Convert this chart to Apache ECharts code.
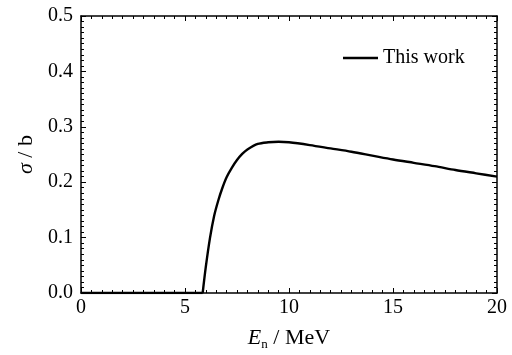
<!DOCTYPE html>
<html>
<head>
<meta charset="utf-8">
<script src="https://cdn.jsdelivr.net/npm/echarts@6/dist/echarts.min.js"></script>
<style>
  html, body { margin: 0; padding: 0; background: #fff; }
  #chart { width: 512px; height: 355px; }
</style>
</head>
<body>
<div id="chart"></div>
<script>
// Neutron energy (MeV) and cross section (b); zero below the reaction threshold
const belowEnergy = [0, 5.85];
const belowSigma  = [0, 0];
const energy = [5.85, 6.0, 6.2, 6.4, 6.6, 6.8, 7.0, 7.25, 7.5, 7.75, 8.0, 8.5, 9.0, 9.5, 10, 11, 12, 13, 14, 15, 16, 17, 18, 19, 20];
const sigma  = [0, 0.047, 0.099, 0.139, 0.167, 0.190, 0.209, 0.226, 0.240, 0.251, 0.259, 0.269, 0.272, 0.273, 0.272, 0.267, 0.261, 0.255, 0.248, 0.241, 0.235, 0.229, 0.222, 0.216, 0.210];
const seriesName = 'This work';
const xTicks = [0, 5, 10, 15, 20];
const yTicks = [0.0, 0.1, 0.2, 0.3, 0.4, 0.5];

const FONT = 'Liberation Serif';
const chart = echarts.init(document.getElementById('chart'));

const axisLine = { show: true, onZero: false, lineStyle: { color: '#000', width: 1.5 } };
const tick = { show: true, inside: true, length: 5, lineStyle: { color: '#000', width: 1 } };
const minor = { show: true, splitNumber: 10, length: 3, lineStyle: { color: '#000', width: 1 } };

function xAxis(pos, labels) {
  return {
    type: 'value', position: pos, min: xTicks[0], max: xTicks[xTicks.length - 1], interval: 5,
    axisLine: axisLine, axisTick: tick, minorTick: minor, splitLine: { show: false },
    axisLabel: { show: labels, color: '#000', fontFamily: FONT, fontSize: 20, margin: 5 }
  };
}
function yAxis(pos, labels) {
  return {
    type: 'value', position: pos, min: yTicks[0], max: yTicks[yTicks.length - 1], interval: 0.1,
    axisLine: axisLine, axisTick: tick, minorTick: minor, splitLine: { show: false },
    axisLabel: { show: labels, color: '#000', fontFamily: FONT, fontSize: 20, margin: 8,
      formatter: v => v.toFixed(1) }
  };
}

const xb = xAxis('bottom', true);
xb.name = '{i|E}{s|n}{r| / MeV}';
xb.nameLocation = 'middle';
xb.nameGap = 33;
xb.nameTextStyle = {
  color: '#000', fontFamily: FONT, fontSize: 22,
  rich: {
    i: { fontFamily: FONT, fontSize: 22, fontStyle: 'italic', color: '#000' },
    s: { fontFamily: FONT, fontSize: 13, color: '#000', padding: [12, 0, 0, 0] },
    r: { fontFamily: FONT, fontSize: 22, color: '#000' }
  }
};

const yl = yAxis('left', true);
yl.name = '{i|σ}{r| / b}';
yl.nameLocation = 'middle';
yl.nameGap = 42;
yl.nameTextStyle = {
  color: '#000', fontFamily: FONT, fontSize: 22,
  rich: {
    i: { fontFamily: FONT, fontSize: 22, fontStyle: 'italic', color: '#000' },
    r: { fontFamily: FONT, fontSize: 22, color: '#000' }
  }
};

const lineStyle = { color: '#000', width: 2.4 };

chart.setOption({
  backgroundColor: '#fff',
  animation: false,
  grid: { left: 81, right: 15, top: 16, bottom: 62, containLabel: false, outerBoundsMode: 'none' },
  legend: {
    data: [{ name: seriesName, icon: 'rect' }],
    left: 338, top: 43,
    itemWidth: 35, itemHeight: 2.5, itemGap: 10,
    textStyle: { color: '#000', fontFamily: FONT, fontSize: 20 }
  },
  xAxis: [xb, xAxis('top', false)],
  yAxis: [yl, yAxis('right', false)],
  series: [{
    name: seriesName,
    type: 'line',
    data: belowEnergy.map((e, i) => [e, belowSigma[i]]),
    symbol: 'none',
    lineStyle: lineStyle,
    itemStyle: { color: '#000' }
  }, {
    name: seriesName,
    type: 'line',
    data: energy.map((e, i) => [e, sigma[i]]),
    symbol: 'none',
    smooth: 0.3,
    lineStyle: lineStyle,
    itemStyle: { color: '#000' }
  }]
});
</script>
</body>
</html>
